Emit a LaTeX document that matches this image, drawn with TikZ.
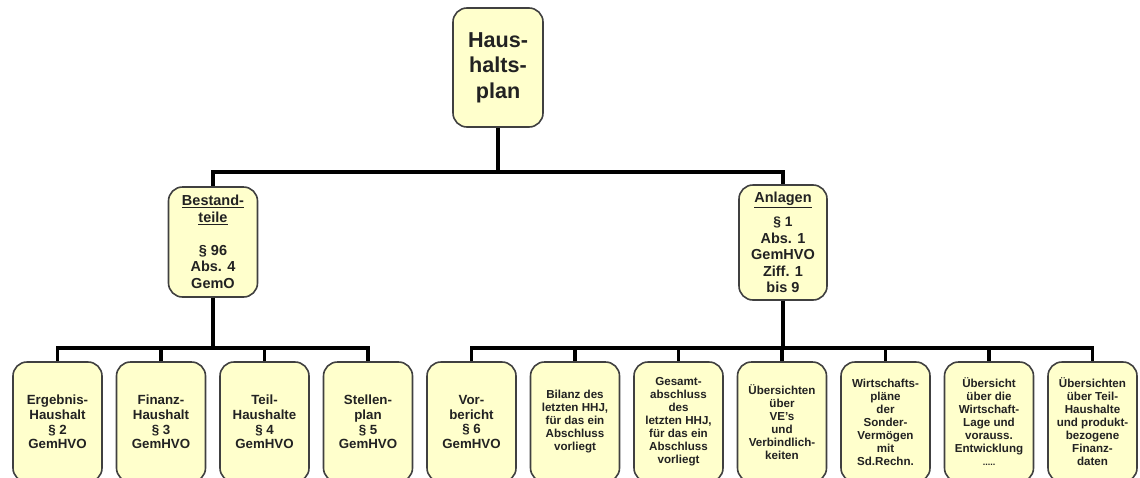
\documentclass[tikz,border=0pt]{standalone}
\usepackage{fontspec}
\setmainfont{Liberation Sans}
\definecolor{boxfill}{HTML}{FFFFCC}
\definecolor{boxline}{HTML}{404040}
\definecolor{txt}{HTML}{222222}
\begin{document}
\begin{tikzpicture}[x=1pt,y=-1pt,
  box/.style={draw=boxline, fill=boxfill, line width=1.6pt, rounded corners=14pt,
    align=center, inner sep=0pt, text=txt},
  topbox/.style={box, minimum width=90pt, minimum height=119pt,
    font=\fontsize{21.6}{25.5}\selectfont\bfseries},
  midbox/.style={box, minimum width=89pt,
    font=\fontsize{14.5}{16.5}\selectfont\bfseries},
  lowbox/.style={box, minimum width=89pt, minimum height=120pt,
    font=\fontsize{13.3}{14.8}\selectfont\bfseries},
  smallbox/.style={box, minimum width=89pt, minimum height=120pt,
    font=\fontsize{11.6}{13}\selectfont\bfseries},
  conn/.style={draw=black, line width=3.6pt}]
\useasboundingbox (0,0) rectangle (1140,477);
\clip (0,0) rectangle (1140,477);

\node[topbox] (top) at (498,67.5) {Haus-\\halts-\\plan};

\node[midbox, minimum height=110pt] (best) at (213,242)
  {\underline{Bestand-}\\\underline{teile}\\[16.5pt]\S\ 96\\Abs. 4\\GemO};
\node[midbox, minimum width=88pt, minimum height=115pt] (anl) at (783,242.5)
  {\underline{Anlagen}\\[8pt]\fontsize{13.8}{16}\selectfont\S\ 1\\Abs. 1\\GemHVO\\Ziff. 1\\bis 9};

\node[lowbox] (b1) at (57.5,422) {Ergebnis-\\Haushalt\\\S\ 2\\GemHVO};
\node[lowbox] (b2) at (161,422) {Finanz-\\Haushalt\\\S\ 3\\GemHVO};
\node[lowbox] (b3) at (264.5,422) {Teil-\\Haushalte\\\S\ 4\\GemHVO};
\node[lowbox] (b4) at (368,422) {Stellen-\\plan\\\S\ 5\\GemHVO};

\node[lowbox] (b5) at (471.5,422) {Vor-\\bericht\\\S\ 6\\GemHVO};
\node[smallbox] (b6) at (575,422) {Bilanz des\\letzten HHJ,\\f\"ur das ein\\Abschluss\\vorliegt};
\node[smallbox] (b7) at (678.5,422) {Gesamt-\\abschluss\\des\\letzten HHJ,\\f\"ur das ein\\Abschluss\\vorliegt};
\node[smallbox] (b8) at (782,422) {\"Ubersichten\\\"uber\\VE’s\\und\\Verbindlich-\\keiten};
\node[smallbox] (b9) at (885.5,422) {Wirtschafts-\\pl\"ane\\der\\Sonder-\\Verm\"ogen\\mit\\Sd.Rechn.};
\node[smallbox] (b10) at (989,422) {\"Ubersicht\\\"uber die\\Wirtschaft-\\Lage und\\vorauss.\\Entwicklung\\{\fontsize{9}{13}\selectfont .....}};
\node[smallbox] (b11) at (1092.5,422) {\"Ubersichten\\\"uber Teil-\\Haushalte\\und produkt-\\bezogene\\Finanz-\\daten};

\draw[conn] (top.south) -- ++(0,44) -| (best.north);
\draw[conn] (top.south) -- ++(0,44) -| (anl.north);

\foreach \b in {b1,b2,b3,b4}
  \draw[conn] (best.south) -- ++(0,50) -| (\b.north);
\foreach \b in {b5,b6,b7,b8,b9,b10,b11}
  \draw[conn] (anl.south) -- ++(0,47) -| (\b.north);
\end{tikzpicture}
\end{document}
